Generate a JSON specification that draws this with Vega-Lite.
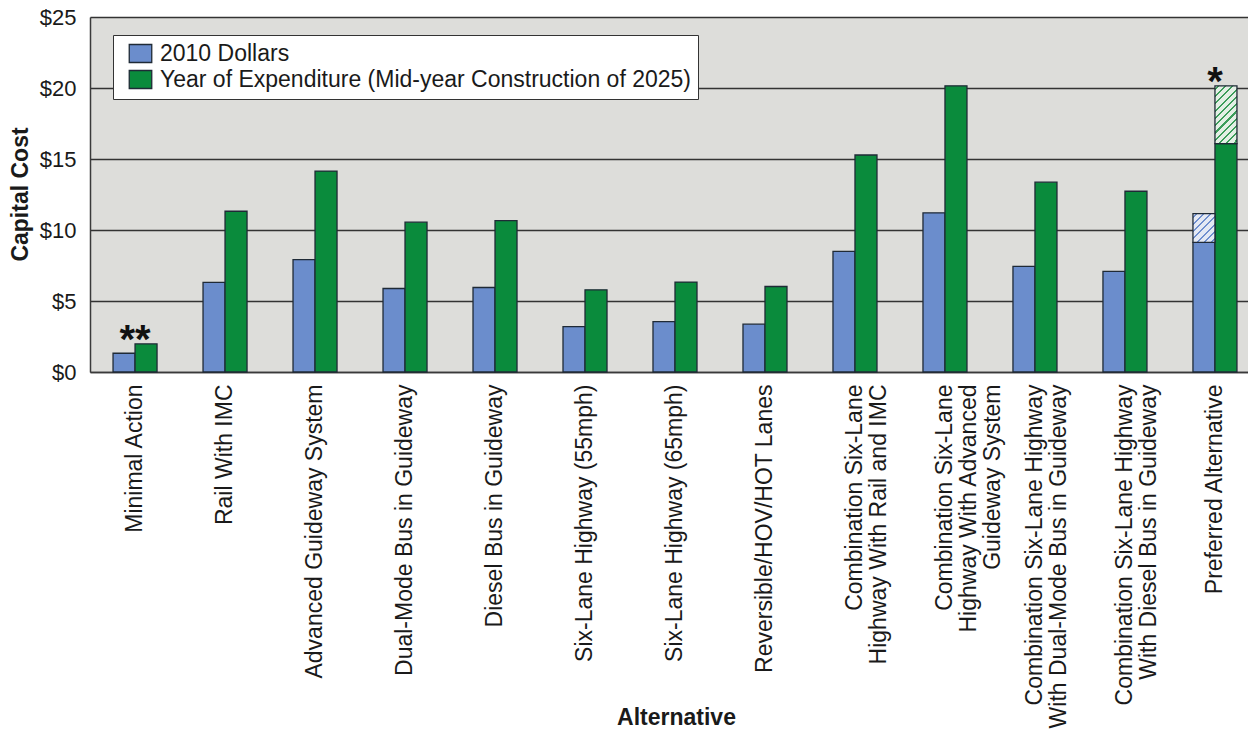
{
  "$schema": "https://vega.github.io/schema/vega-lite/v6.json",
  "autosize": "none",
  "width": 1158,
  "height": 355,
  "padding": {"left": 90, "top": 17, "right": 0, "bottom": 358},
  "background": "white",
  "config": {
    "font": "Liberation Sans",
    "view": {"fill": "#ddddda", "stroke": null},
    "axis": {"labelColor": "#1a1a1a", "titleColor": "#1a1a1a", "labelFont": "Liberation Sans", "titleFont": "Liberation Sans"},
    "legend": {"labelFont": "Liberation Sans", "labelColor": "#1a1a1a"}
  },
  "datasets": {
    "bars": [
      {"alt": "Minimal Action", "series": "2010 Dollars", "value": 1.32},
      {"alt": "Minimal Action", "series": "Year of Expenditure (Mid-year Construction of 2025)", "value": 1.98},
      {"alt": "Rail With IMC", "series": "2010 Dollars", "value": 6.31},
      {"alt": "Rail With IMC", "series": "Year of Expenditure (Mid-year Construction of 2025)", "value": 11.32},
      {"alt": "Advanced Guideway System", "series": "2010 Dollars", "value": 7.91},
      {"alt": "Advanced Guideway System", "series": "Year of Expenditure (Mid-year Construction of 2025)", "value": 14.15},
      {"alt": "Dual-Mode Bus in Guideway", "series": "2010 Dollars", "value": 5.88},
      {"alt": "Dual-Mode Bus in Guideway", "series": "Year of Expenditure (Mid-year Construction of 2025)", "value": 10.55},
      {"alt": "Diesel Bus in Guideway", "series": "2010 Dollars", "value": 5.95},
      {"alt": "Diesel Bus in Guideway", "series": "Year of Expenditure (Mid-year Construction of 2025)", "value": 10.66},
      {"alt": "Six-Lane Highway (55mph)", "series": "2010 Dollars", "value": 3.2},
      {"alt": "Six-Lane Highway (55mph)", "series": "Year of Expenditure (Mid-year Construction of 2025)", "value": 5.79},
      {"alt": "Six-Lane Highway (65mph)", "series": "2010 Dollars", "value": 3.55},
      {"alt": "Six-Lane Highway (65mph)", "series": "Year of Expenditure (Mid-year Construction of 2025)", "value": 6.33},
      {"alt": "Reversible/HOV/HOT Lanes", "series": "2010 Dollars", "value": 3.37},
      {"alt": "Reversible/HOV/HOT Lanes", "series": "Year of Expenditure (Mid-year Construction of 2025)", "value": 6.02},
      {"alt": "Combination Six-Lane|Highway With Rail and IMC", "series": "2010 Dollars", "value": 8.5},
      {"alt": "Combination Six-Lane|Highway With Rail and IMC", "series": "Year of Expenditure (Mid-year Construction of 2025)", "value": 15.28},
      {"alt": "Combination Six-Lane|Highway With Advanced|Guideway System", "series": "2010 Dollars", "value": 11.21},
      {"alt": "Combination Six-Lane|Highway With Advanced|Guideway System", "series": "Year of Expenditure (Mid-year Construction of 2025)", "value": 20.15},
      {"alt": "Combination Six-Lane Highway|With Dual-Mode Bus in Guideway", "series": "2010 Dollars", "value": 7.44},
      {"alt": "Combination Six-Lane Highway|With Dual-Mode Bus in Guideway", "series": "Year of Expenditure (Mid-year Construction of 2025)", "value": 13.37},
      {"alt": "Combination Six-Lane Highway|With Diesel Bus in Guideway", "series": "2010 Dollars", "value": 7.08},
      {"alt": "Combination Six-Lane Highway|With Diesel Bus in Guideway", "series": "Year of Expenditure (Mid-year Construction of 2025)", "value": 12.73},
      {"alt": "Preferred Alternative", "series": "2010 Dollars", "value": 9.13},
      {"alt": "Preferred Alternative", "series": "Year of Expenditure (Mid-year Construction of 2025)", "value": 16.08}
    ],
    "ranges": [
      {"alt": "Preferred Alternative", "series": "2010 Dollars", "low": 9.13, "high": 11.16},
      {"alt": "Preferred Alternative", "series": "Year of Expenditure (Mid-year Construction of 2025)", "low": 16.08, "high": 20.15}
    ],
    "notes": [
      {"alt": "Minimal Action", "value": 1.98, "note": "**"},
      {"alt": "Preferred Alternative", "value": 20.15, "note": "*"}
    ]
  },
  "encoding": {
    "x": {
      "field": "alt", "type": "nominal", "sort": null,
      "scale": {"range": [0, 1170], "paddingInner": 0.511, "paddingOuter": 0.256},
      "axis": {
        "title": "Alternative",
        "titleFontSize": 23, "titleFontWeight": "bold",
        "titleX": 586, "titleY": 352, "titleAlign": "center", "titleBaseline": "alphabetic", "titleAnchor": null,
        "labelAngle": -90, "labelAlign": "right", "labelBaseline": "middle",
        "labelFontSize": 23, "labelLineHeight": 24, "labelPadding": 12, "labelLimit": 600,
        "labelExpr": "split(datum.label, '|')",
        "ticks": false, "tickSize": 0,
        "domainColor": "#3a3a3a", "domainWidth": 1.5,
        "grid": false
      }
    }
  },
  "layer": [
    {
      "data": {"name": "bars"},
      "mark": {"type": "bar", "stroke": "#1f2a36", "strokeWidth": 1.3},
      "encoding": {
        "xOffset": {"field": "series", "type": "nominal", "scale": {"paddingInner": 0, "paddingOuter": 0}},
        "y": {
          "field": "value", "type": "quantitative",
          "scale": {"domain": [0, 25], "nice": false},
          "axis": {
            "title": "Capital Cost", "titleFontSize": 23, "titleFontWeight": "bold",
            "titleX": -70, "titleY": 177, "titleAlign": "center", "titleBaseline": "middle", "titleAngle": -90,
            "values": [0, 5, 10, 15, 20, 25],
            "labelExpr": "'$' + datum.value",
            "labelFontSize": 22, "labelPadding": 14,
            "ticks": false, "tickSize": 0,
            "domainColor": "#3a3a3a", "domainWidth": 1.5,
            "grid": true, "gridColor": "#333333", "gridWidth": 1.3, "gridOpacity": 1
          }
        },
        "color": {
          "field": "series", "type": "nominal",
          "scale": {"domain": ["2010 Dollars", "Year of Expenditure (Mid-year Construction of 2025)"], "range": ["#6b8dcc", "#0a8b3c"]},
          "legend": {
            "title": null, "orient": "none", "legendX": 23, "legendY": 18,
            "fillColor": "white", "strokeColor": "#333333",
            "padding": 7, "labelFontSize": 23, "rowPadding": 1, "labelLimit": 900,
            "symbolType": "M-1.25,-1H1.25V1H-1.25Z", "symbolSize": 324,
            "symbolStrokeColor": "#1f2a36", "symbolStrokeWidth": 1.3, "symbolOpacity": 1,
            "symbolOffset": 9, "labelOffset": 8
          }
        }
      }
    },
    {
      "data": {"name": "ranges"},
      "transform": [{"filter": "datum.series === '2010 Dollars'"}],
      "mark": {
        "type": "bar", "stroke": "#1f2a36", "strokeWidth": 1.3,
        "fill": {
          "gradient": "linear", "x1": 0, "y1": 0, "x2": 0.853, "y2": 1.113,
          "stops": [
            {"offset": 0, "color": "#e4e9f4"},
            {"offset": 0.051, "color": "#e4e9f4"}, {"offset": 0.051, "color": "#6f8fcf"}, {"offset": 0.091, "color": "#6f8fcf"}, {"offset": 0.091, "color": "#e4e9f4"},
            {"offset": 0.194, "color": "#e4e9f4"}, {"offset": 0.194, "color": "#6f8fcf"}, {"offset": 0.234, "color": "#6f8fcf"}, {"offset": 0.234, "color": "#e4e9f4"},
            {"offset": 0.337, "color": "#e4e9f4"}, {"offset": 0.337, "color": "#6f8fcf"}, {"offset": 0.377, "color": "#6f8fcf"}, {"offset": 0.377, "color": "#e4e9f4"},
            {"offset": 0.48, "color": "#e4e9f4"}, {"offset": 0.48, "color": "#6f8fcf"}, {"offset": 0.52, "color": "#6f8fcf"}, {"offset": 0.52, "color": "#e4e9f4"},
            {"offset": 0.623, "color": "#e4e9f4"}, {"offset": 0.623, "color": "#6f8fcf"}, {"offset": 0.663, "color": "#6f8fcf"}, {"offset": 0.663, "color": "#e4e9f4"},
            {"offset": 0.766, "color": "#e4e9f4"}, {"offset": 0.766, "color": "#6f8fcf"}, {"offset": 0.806, "color": "#6f8fcf"}, {"offset": 0.806, "color": "#e4e9f4"},
            {"offset": 0.909, "color": "#e4e9f4"}, {"offset": 0.909, "color": "#6f8fcf"}, {"offset": 0.949, "color": "#6f8fcf"}, {"offset": 0.949, "color": "#e4e9f4"},
            {"offset": 1, "color": "#e4e9f4"}
          ]
        }
      },
      "encoding": {
        "xOffset": {"field": "series", "type": "nominal"},
        "y": {"field": "low", "type": "quantitative"},
        "y2": {"field": "high"}
      }
    },
    {
      "data": {"name": "ranges"},
      "transform": [{"filter": "datum.series !== '2010 Dollars'"}],
      "mark": {
        "type": "bar", "stroke": "#1f2a36", "strokeWidth": 1.3,
        "fill": {
          "gradient": "linear", "x1": 0, "y1": 0, "x2": 0.4607, "y2": 1.206,
          "stops": [
            {"offset": 0, "color": "#e3efe5"},
            {"offset": 0.032, "color": "#e3efe5"}, {"offset": 0.032, "color": "#3c9d5a"}, {"offset": 0.058, "color": "#3c9d5a"}, {"offset": 0.058, "color": "#e3efe5"},
            {"offset": 0.123, "color": "#e3efe5"}, {"offset": 0.123, "color": "#3c9d5a"}, {"offset": 0.149, "color": "#3c9d5a"}, {"offset": 0.149, "color": "#e3efe5"},
            {"offset": 0.214, "color": "#e3efe5"}, {"offset": 0.214, "color": "#3c9d5a"}, {"offset": 0.24, "color": "#3c9d5a"}, {"offset": 0.24, "color": "#e3efe5"},
            {"offset": 0.305, "color": "#e3efe5"}, {"offset": 0.305, "color": "#3c9d5a"}, {"offset": 0.331, "color": "#3c9d5a"}, {"offset": 0.331, "color": "#e3efe5"},
            {"offset": 0.396, "color": "#e3efe5"}, {"offset": 0.396, "color": "#3c9d5a"}, {"offset": 0.422, "color": "#3c9d5a"}, {"offset": 0.422, "color": "#e3efe5"},
            {"offset": 0.487, "color": "#e3efe5"}, {"offset": 0.487, "color": "#3c9d5a"}, {"offset": 0.513, "color": "#3c9d5a"}, {"offset": 0.513, "color": "#e3efe5"},
            {"offset": 0.578, "color": "#e3efe5"}, {"offset": 0.578, "color": "#3c9d5a"}, {"offset": 0.604, "color": "#3c9d5a"}, {"offset": 0.604, "color": "#e3efe5"},
            {"offset": 0.669, "color": "#e3efe5"}, {"offset": 0.669, "color": "#3c9d5a"}, {"offset": 0.695, "color": "#3c9d5a"}, {"offset": 0.695, "color": "#e3efe5"},
            {"offset": 0.76, "color": "#e3efe5"}, {"offset": 0.76, "color": "#3c9d5a"}, {"offset": 0.786, "color": "#3c9d5a"}, {"offset": 0.786, "color": "#e3efe5"},
            {"offset": 0.851, "color": "#e3efe5"}, {"offset": 0.851, "color": "#3c9d5a"}, {"offset": 0.877, "color": "#3c9d5a"}, {"offset": 0.877, "color": "#e3efe5"},
            {"offset": 0.942, "color": "#e3efe5"}, {"offset": 0.942, "color": "#3c9d5a"}, {"offset": 0.968, "color": "#3c9d5a"}, {"offset": 0.968, "color": "#e3efe5"},
            {"offset": 1, "color": "#e3efe5"}
          ]
        }
      },
      "encoding": {
        "xOffset": {"field": "series", "type": "nominal"},
        "y": {"field": "low", "type": "quantitative"},
        "y2": {"field": "high"}
      }
    },
    {
      "data": {"name": "notes"},
      "mark": {"type": "text", "font": "Liberation Sans", "fontWeight": "bold", "fontSize": 40, "color": "#111111", "baseline": "alphabetic", "align": "center", "dy": 9},
      "encoding": {
        "y": {"field": "value", "type": "quantitative"},
        "text": {"field": "note"}
      }
    }
  ]
}
